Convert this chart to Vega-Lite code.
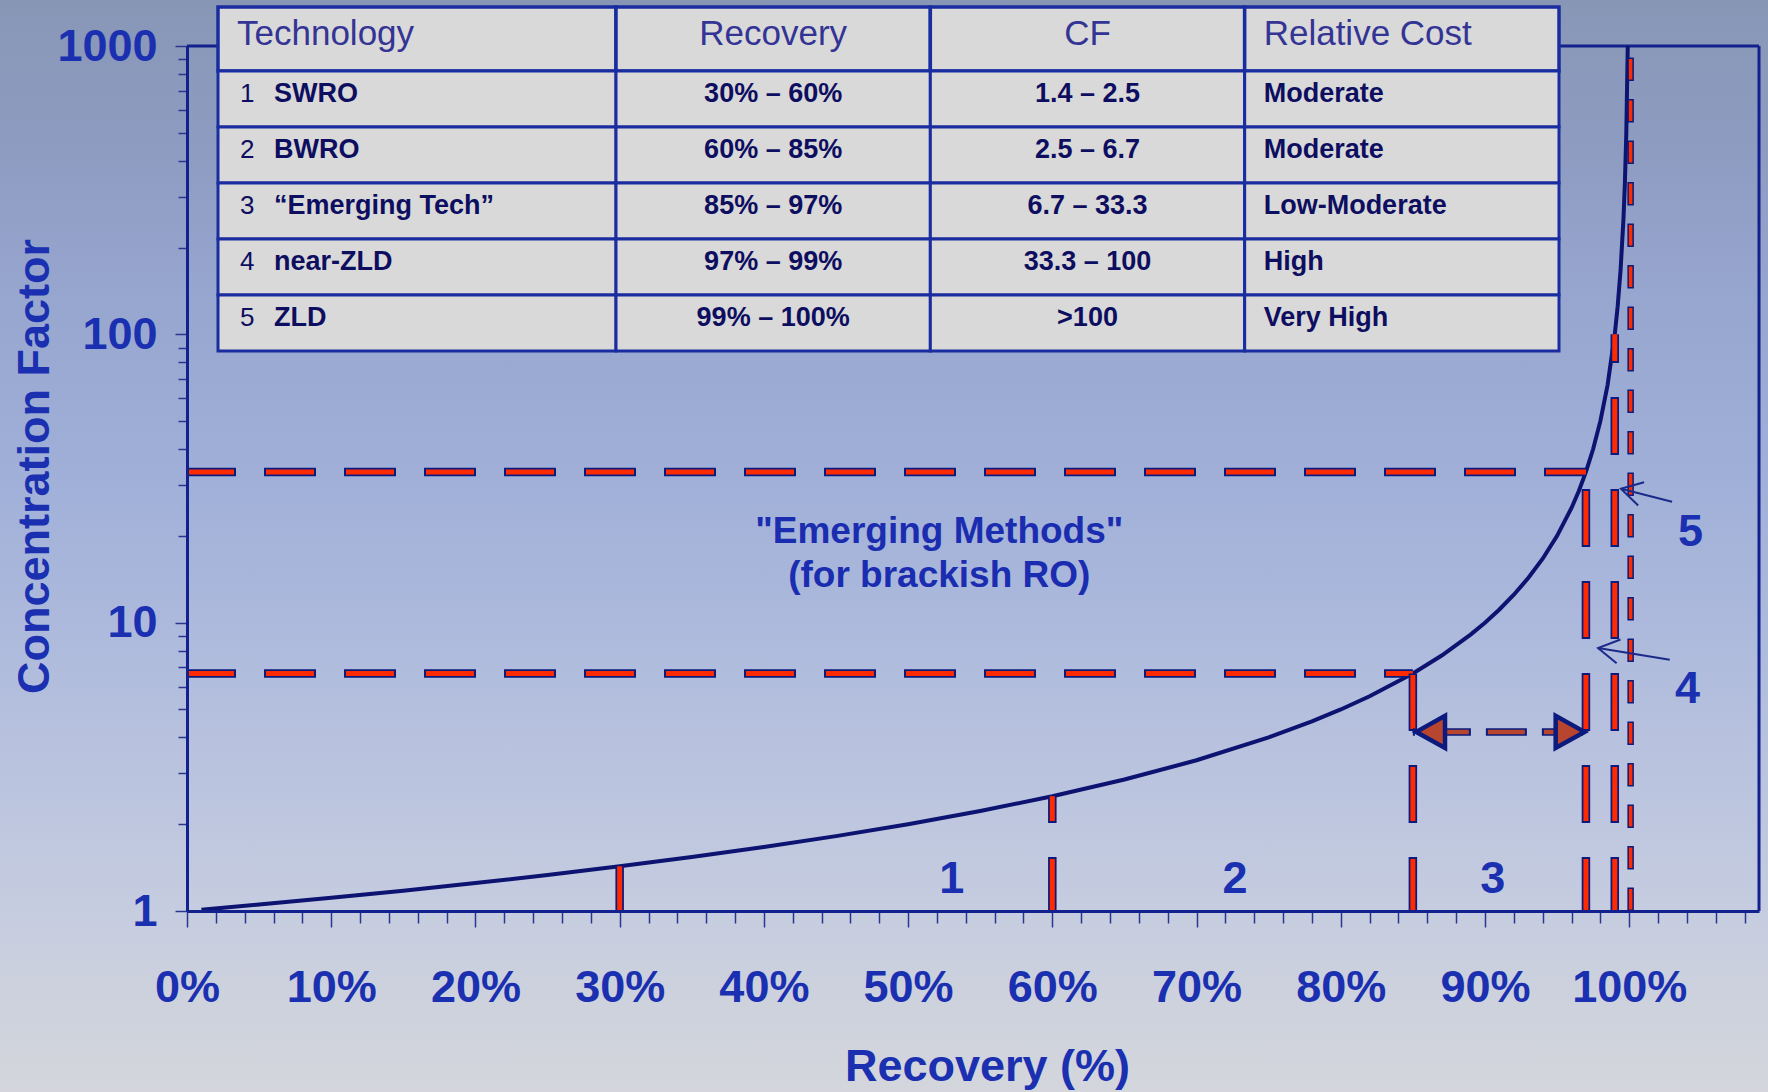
{
  "$schema": "https://vega.github.io/schema/vega-lite/v6.json",
  "width": 1572,
  "height": 865,
  "autosize": {"type": "none"},
  "padding": {"left": 187, "top": 46, "right": 9, "bottom": 181},
  "background": "#b3bdd9",
  "config": {"font": "Liberation Sans", "view": {"stroke": null}},
  "datasets": {
    "curve": [
      {"R": 0.01, "CF": 1.0101}, {"R": 0.05, "CF": 1.0526}, {"R": 0.1, "CF": 1.1111}, {"R": 0.15, "CF": 1.1765},
      {"R": 0.2, "CF": 1.25}, {"R": 0.25, "CF": 1.3333}, {"R": 0.3, "CF": 1.4286}, {"R": 0.35, "CF": 1.5385},
      {"R": 0.4, "CF": 1.6667}, {"R": 0.45, "CF": 1.8182}, {"R": 0.5, "CF": 2}, {"R": 0.55, "CF": 2.2222},
      {"R": 0.6, "CF": 2.5}, {"R": 0.65, "CF": 2.8571}, {"R": 0.7, "CF": 3.3333}, {"R": 0.75, "CF": 4},
      {"R": 0.78, "CF": 4.5455}, {"R": 0.8, "CF": 5}, {"R": 0.82, "CF": 5.5556}, {"R": 0.85, "CF": 6.6667},
      {"R": 0.87, "CF": 7.6923}, {"R": 0.89, "CF": 9.0909}, {"R": 0.9, "CF": 10}, {"R": 0.91, "CF": 11.111},
      {"R": 0.92, "CF": 12.5}, {"R": 0.93, "CF": 14.286}, {"R": 0.94, "CF": 16.667}, {"R": 0.95, "CF": 20},
      {"R": 0.96, "CF": 25}, {"R": 0.965, "CF": 28.571}, {"R": 0.97, "CF": 33.333}, {"R": 0.975, "CF": 40},
      {"R": 0.98, "CF": 50}, {"R": 0.985, "CF": 66.667}, {"R": 0.99, "CF": 100}, {"R": 0.992, "CF": 125},
      {"R": 0.994, "CF": 166.67}, {"R": 0.996, "CF": 250}, {"R": 0.997, "CF": 333.33}, {"R": 0.998, "CF": 500},
      {"R": 0.999, "CF": 1000}
    ],
    "hguides": [{"R0": 0, "R1": 0.85, "CF": 6.667}, {"R0": 0, "R1": 0.97, "CF": 33.33}],
    "vguides": [
      {"R": 0.3, "CFbase": 1, "CFtop": 1.4286}, {"R": 0.6, "CFbase": 1, "CFtop": 2.5}, {"R": 0.85, "CFbase": 1, "CFtop": 6.667},
      {"R": 0.97, "CFbase": 1, "CFtop": 33.33}, {"R": 0.99, "CFbase": 1, "CFtop": 100}
    ],
    "thin": [{"R": 1.001, "CF0": 1, "CF1": 1000}],
    "arrow": [{"R0": 0.85, "R1": 0.97, "CF": 4.18}],
    "heads": [{"R": 0.8623, "CF": 4.18, "dir": "left"}, {"R": 0.959, "CF": 4.18, "dir": "right"}],
    "pointers": [
      {"label": "5", "Rh": 0.9943, "CFh": 29.12, "Rt": 1.0297, "CFt": 26.25},
      {"label": "4", "Rh": 0.9784, "CFh": 8.17, "Rt": 1.0281, "CFt": 7.44}
    ],
    "regions": [
      {"t": "1", "R": 0.5303, "CF": 1.291}, {"t": "2", "R": 0.7266, "CF": 1.291}, {"t": "3", "R": 0.9054, "CF": 1.291},
      {"t": "4", "R": 1.0405, "CF": 5.89}, {"t": "5", "R": 1.0426, "CF": 20.57}
    ],
    "note": [{"R": 0.5216, "CF": 18.86, "t": ["\"Emerging Methods\"", "(for brackish RO)"]}],
    "head_tech": [{"row": "header", "col": "Technology"}],
    "head_other": [{"row": "header", "col": "Recovery"}, {"row": "header", "col": "CF"}, {"row": "header", "col": "Relative Cost"}],
    "body_tech": [
      {"row": "1", "col": "Technology", "num": "1", "name": "SWRO"},
      {"row": "2", "col": "Technology", "num": "2", "name": "BWRO"},
      {"row": "3", "col": "Technology", "num": "3", "name": "“Emerging Tech”"},
      {"row": "4", "col": "Technology", "num": "4", "name": "near-ZLD"},
      {"row": "5", "col": "Technology", "num": "5", "name": "ZLD"}
    ],
    "body_other": [
      {"row": "1", "col": "Recovery", "text": "30% – 60%"}, {"row": "1", "col": "CF", "text": "1.4 – 2.5"}, {"row": "1", "col": "Relative Cost", "text": "Moderate"},
      {"row": "2", "col": "Recovery", "text": "60% – 85%"}, {"row": "2", "col": "CF", "text": "2.5 – 6.7"}, {"row": "2", "col": "Relative Cost", "text": "Moderate"},
      {"row": "3", "col": "Recovery", "text": "85% – 97%"}, {"row": "3", "col": "CF", "text": "6.7 – 33.3"}, {"row": "3", "col": "Relative Cost", "text": "Low-Moderate"},
      {"row": "4", "col": "Recovery", "text": "97% – 99%"}, {"row": "4", "col": "CF", "text": "33.3 – 100"}, {"row": "4", "col": "Relative Cost", "text": "High"},
      {"row": "5", "col": "Recovery", "text": "99% – 100%"}, {"row": "5", "col": "CF", "text": ">100"}, {"row": "5", "col": "Relative Cost", "text": "Very High"}
    ]
  },
  "layer": [
    {
      "data": {"values": [{"a": 0}]},
      "mark": {"type": "rect", "fill": {"gradient": "linear", "x1": 0, "y1": 0, "x2": 0, "y2": 1, "stops": [
        {"offset": 0.07, "color": "#8896b6"},
        {"offset": 0.19, "color": "#8e9cc2"},
        {"offset": 0.30, "color": "#97a6cf"},
        {"offset": 0.42, "color": "#9eaed7"},
        {"offset": 0.54, "color": "#abb8dc"},
        {"offset": 0.65, "color": "#b8c2de"},
        {"offset": 0.77, "color": "#c5cce0"},
        {"offset": 0.85, "color": "#ced2dd"},
        {"offset": 0.92, "color": "#d4d6dc"}
      ]}},
      "encoding": {
        "x": {"datum": -0.2, "type": "quantitative", "scale": {"domain": [0, 1.09], "nice": false, "zero": false}, "axis": null},
        "x2": {"datum": 1.2},
        "y": {"datum": 3000, "type": "quantitative", "scale": {"type": "log", "domain": [1, 1000], "nice": false}, "axis": null},
        "y2": {"datum": 0.1}
      }
    },
    {
      "data": {"values": [{"a": 0}]},
      "mark": {"type": "rule", "stroke": "#13218e", "strokeWidth": 3},
      "encoding": {
        "x": {"datum": 0, "type": "quantitative", "scale": {"domain": [0, 1.09], "nice": false, "zero": false}, "axis": null},
        "x2": {"datum": 1.09},
        "y": {"datum": 1000, "type": "quantitative", "scale": {"type": "log", "domain": [1, 1000], "nice": false}, "axis": null}
      }
    },
    {
      "data": {"values": [{"a": 0}]},
      "mark": {"type": "rule", "stroke": "#13218e", "strokeWidth": 3},
      "encoding": {
        "x": {"datum": 1.09, "type": "quantitative", "scale": {"domain": [0, 1.09], "nice": false, "zero": false}, "axis": null},
        "y": {"datum": 1, "type": "quantitative", "scale": {"type": "log", "domain": [1, 1000], "nice": false}, "axis": null},
        "y2": {"datum": 1000}
      }
    },
    {
      "data": {"name": "curve"},
      "mark": {"type": "line", "stroke": "#0c1370", "strokeWidth": 4},
      "encoding": {
        "x": {
          "field": "R", "type": "quantitative",
          "scale": {"domain": [0, 1.09], "nice": false, "zero": false},
          "axis": {
            "values": [0,0.02,0.04,0.06,0.08,0.1,0.12,0.14,0.16,0.18,0.2,0.22,0.24,0.26,0.28,0.3,0.32,0.34,0.36,0.38,0.4,0.42,0.44,0.46,0.48,0.5,0.52,0.54,0.56,0.58,0.6,0.62,0.64,0.66,0.68,0.7,0.72,0.74,0.76,0.78,0.8,0.82,0.84,0.86,0.88,0.9,0.92,0.94,0.96,0.98,1,1.02,1.04,1.06,1.08],
            "labelExpr": "abs(datum.value*10 - round(datum.value*10)) < 0.001 && datum.value < 1.001 ? format(datum.value, '.0%') : ''",
            "labelFontSize": 45, "labelFontWeight": "bold", "labelColor": "#1a30b0",
            "labelBaseline": "alphabetic", "labelPadding": 74, "labelOverlap": false, "labelFlush": false,
            "tickSize": {"condition": {"test": "abs(datum.value*10 - round(datum.value*10)) < 0.001", "value": 16}, "value": 12},
            "tickColor": "#2a3590", "tickWidth": 1.5,
            "domainColor": "#13218e", "domainWidth": 3,
            "grid": false, "zindex": 1,
            "title": "Recovery (%)", "titleFontSize": 45, "titleFontWeight": "bold", "titleColor": "#1a30b0",
            "titleX": 800, "titleY": 169, "titleBaseline": "alphabetic", "titleAlign": "center"
          }
        },
        "y": {
          "field": "CF", "type": "quantitative",
          "scale": {"type": "log", "domain": [1, 1000], "nice": false},
          "axis": {
            "values": [1,2,3,4,5,6,7,8,9,10,20,30,40,50,60,70,80,90,100,200,300,400,500,600,700,800,900,1000],
            "labelExpr": "(datum.value==1||datum.value==10||datum.value==100||datum.value==1000) ? format(datum.value, 'd') : ''",
            "labelFontSize": 45, "labelFontWeight": "bold", "labelColor": "#1a30b0",
            "labelBaseline": "middle", "labelPadding": 18, "labelOverlap": false, "labelFlush": false,
            "tickSize": {"condition": {"test": "datum.value==1||datum.value==10||datum.value==100||datum.value==1000", "value": 12}, "value": 9},
            "tickColor": "#2a3590", "tickWidth": 1.5,
            "domainColor": "#13218e", "domainWidth": 3,
            "grid": false, "zindex": 1,
            "title": "Concentration Factor", "titleFontSize": 45, "titleFontWeight": "bold", "titleColor": "#1a30b0",
            "titleX": -153, "titleY": 420, "titleAngle": 270, "titleBaseline": "middle", "titleAlign": "center"
          }
        }
      }
    },
    {
      "data": {"name": "hguides"},
      "mark": {"type": "rule", "stroke": "#0b1a7c", "strokeWidth": 8.5, "strokeDash": [52, 28], "strokeDashOffset": 3},
      "encoding": {
        "x": {"field": "R0", "type": "quantitative", "scale": {"domain": [0, 1.09], "nice": false, "zero": false}, "axis": null},
        "x2": {"field": "R1"},
        "y": {"field": "CF", "type": "quantitative", "scale": {"type": "log", "domain": [1, 1000], "nice": false}, "axis": null}
      }
    },
    {
      "data": {"name": "hguides"},
      "mark": {"type": "rule", "stroke": "#ff2a00", "strokeWidth": 5, "strokeDash": [48, 32], "strokeDashOffset": 1},
      "encoding": {
        "x": {"field": "R0", "type": "quantitative", "scale": {"domain": [0, 1.09], "nice": false, "zero": false}, "axis": null},
        "x2": {"field": "R1"},
        "y": {"field": "CF", "type": "quantitative", "scale": {"type": "log", "domain": [1, 1000], "nice": false}, "axis": null}
      }
    },
    {
      "data": {"name": "vguides"},
      "mark": {"type": "rule", "stroke": "#0b1a7c", "strokeWidth": 8.5, "strokeDash": [58, 34], "strokeDashOffset": 4},
      "encoding": {
        "x": {"field": "R", "type": "quantitative", "scale": {"domain": [0, 1.09], "nice": false, "zero": false}, "axis": null},
        "y": {"field": "CFbase", "type": "quantitative", "scale": {"type": "log", "domain": [1, 1000], "nice": false}, "axis": null},
        "y2": {"field": "CFtop"}
      }
    },
    {
      "data": {"name": "vguides"},
      "mark": {"type": "rule", "stroke": "#ff2a00", "strokeWidth": 5, "strokeDash": [54, 38], "strokeDashOffset": 2},
      "encoding": {
        "x": {"field": "R", "type": "quantitative", "scale": {"domain": [0, 1.09], "nice": false, "zero": false}, "axis": null},
        "y": {"field": "CFbase", "type": "quantitative", "scale": {"type": "log", "domain": [1, 1000], "nice": false}, "axis": null},
        "y2": {"field": "CFtop"}
      }
    },
    {
      "data": {"name": "thin"},
      "mark": {"type": "rule", "stroke": "#0b1a7c", "strokeWidth": 6.5, "strokeDash": [23.5, 18], "strokeDashOffset": 0},
      "encoding": {
        "x": {"field": "R", "type": "quantitative", "scale": {"domain": [0, 1.09], "nice": false, "zero": false}, "axis": null},
        "y": {"field": "CF0", "type": "quantitative", "scale": {"type": "log", "domain": [1, 1000], "nice": false}, "axis": null},
        "y2": {"field": "CF1"}
      }
    },
    {
      "data": {"name": "thin"},
      "mark": {"type": "rule", "stroke": "#ff2a00", "strokeWidth": 3.5, "strokeDash": [20.5, 21], "strokeDashOffset": 40},
      "encoding": {
        "x": {"field": "R", "type": "quantitative", "scale": {"domain": [0, 1.09], "nice": false, "zero": false}, "axis": null},
        "y": {"field": "CF0", "type": "quantitative", "scale": {"type": "log", "domain": [1, 1000], "nice": false}, "axis": null},
        "y2": {"field": "CF1"}
      }
    },
    {
      "data": {"name": "arrow"},
      "mark": {"type": "rule", "stroke": "#0b1a7c", "strokeWidth": 7.5, "strokeDash": [41, 15], "strokeDashOffset": 39},
      "encoding": {
        "x": {"field": "R0", "type": "quantitative", "scale": {"domain": [0, 1.09], "nice": false, "zero": false}, "axis": null},
        "x2": {"field": "R1"},
        "y": {"field": "CF", "type": "quantitative", "scale": {"type": "log", "domain": [1, 1000], "nice": false}, "axis": null}
      }
    },
    {
      "data": {"name": "arrow"},
      "mark": {"type": "rule", "stroke": "#b8462e", "strokeWidth": 4.5, "strokeDash": [37, 19], "strokeDashOffset": 37},
      "encoding": {
        "x": {"field": "R0", "type": "quantitative", "scale": {"domain": [0, 1.09], "nice": false, "zero": false}, "axis": null},
        "x2": {"field": "R1"},
        "y": {"field": "CF", "type": "quantitative", "scale": {"type": "log", "domain": [1, 1000], "nice": false}, "axis": null}
      }
    },
    {
      "data": {"name": "heads"},
      "mark": {"type": "point", "filled": true, "fill": "#b8462e", "strokeWidth": 0, "size": 1024, "opacity": 1},
      "encoding": {
        "x": {"field": "R", "type": "quantitative", "scale": {"domain": [0, 1.09], "nice": false, "zero": false}, "axis": null},
        "y": {"field": "CF", "type": "quantitative", "scale": {"type": "log", "domain": [1, 1000], "nice": false}, "axis": null},
        "shape": {"field": "dir", "type": "nominal", "scale": {"domain": ["left", "right"], "range": ["M-0.9,0L0.9,-1L0.9,1Z", "M0.9,0L-0.9,-1L-0.9,1Z"]}, "legend": null}
      }
    },
    {
      "data": {"name": "heads"},
      "mark": {"type": "point", "filled": false, "stroke": "#0b1a7c", "strokeWidth": 4.5, "size": 1024, "opacity": 1},
      "encoding": {
        "x": {"field": "R", "type": "quantitative", "scale": {"domain": [0, 1.09], "nice": false, "zero": false}, "axis": null},
        "y": {"field": "CF", "type": "quantitative", "scale": {"type": "log", "domain": [1, 1000], "nice": false}, "axis": null},
        "shape": {"field": "dir", "type": "nominal", "scale": {"domain": ["left", "right"], "range": ["M0.9,-1L-0.9,0L0.9,1", "M-0.9,-1L0.9,0L-0.9,1"]}, "legend": null}
      }
    },
    {
      "data": {"name": "pointers"},
      "mark": {"type": "rule", "stroke": "#1a2a8a", "strokeWidth": 2},
      "encoding": {
        "x": {"field": "Rh", "type": "quantitative", "scale": {"domain": [0, 1.09], "nice": false, "zero": false}, "axis": null},
        "y": {"field": "CFh", "type": "quantitative", "scale": {"type": "log", "domain": [1, 1000], "nice": false}, "axis": null},
        "x2": {"field": "Rt"},
        "y2": {"field": "CFt"}
      }
    },
    {
      "data": {"name": "pointers"},
      "transform": [{"filter": "datum.label == '5'"}],
      "mark": {"type": "point", "shape": "M0.866,-0.5L0,0L0.866,0.5", "filled": false, "stroke": "#1a2a8a", "strokeWidth": 2, "size": 2304, "angle": 14.3, "opacity": 1},
      "encoding": {
        "x": {"field": "Rh", "type": "quantitative", "scale": {"domain": [0, 1.09], "nice": false, "zero": false}, "axis": null},
        "y": {"field": "CFh", "type": "quantitative", "scale": {"type": "log", "domain": [1, 1000], "nice": false}, "axis": null}
      }
    },
    {
      "data": {"name": "pointers"},
      "transform": [{"filter": "datum.label == '4'"}],
      "mark": {"type": "point", "shape": "M0.866,-0.5L0,0L0.866,0.5", "filled": false, "stroke": "#1a2a8a", "strokeWidth": 2, "size": 2304, "angle": 9.3, "opacity": 1},
      "encoding": {
        "x": {"field": "Rh", "type": "quantitative", "scale": {"domain": [0, 1.09], "nice": false, "zero": false}, "axis": null},
        "y": {"field": "CFh", "type": "quantitative", "scale": {"type": "log", "domain": [1, 1000], "nice": false}, "axis": null}
      }
    },
    {
      "data": {"name": "regions"},
      "mark": {"type": "text", "fontSize": 45, "fontWeight": "bold", "color": "#1a30b0", "align": "center", "baseline": "middle"},
      "encoding": {
        "x": {"field": "R", "type": "quantitative", "scale": {"domain": [0, 1.09], "nice": false, "zero": false}, "axis": null},
        "y": {"field": "CF", "type": "quantitative", "scale": {"type": "log", "domain": [1, 1000], "nice": false}, "axis": null},
        "text": {"field": "t"}
      }
    },
    {
      "data": {"name": "note"},
      "mark": {"type": "text", "fontSize": 37, "fontWeight": "bold", "color": "#1a2db0", "align": "center", "baseline": "alphabetic", "lineHeight": 44},
      "encoding": {
        "x": {"field": "R", "type": "quantitative", "scale": {"domain": [0, 1.09], "nice": false, "zero": false}, "axis": null},
        "y": {"field": "CF", "type": "quantitative", "scale": {"type": "log", "domain": [1, 1000], "nice": false}, "axis": null},
        "text": {"field": "t"}
      }
    },
    {
      "data": {"name": "head_tech"},
      "mark": {"type": "rect", "fill": "#d9d9d9", "stroke": "#1a2da0", "strokeWidth": 3.5},
      "encoding": {
        "x": {"field": "col", "type": "nominal", "scale": {"type": "band", "domain": ["Technology"], "range": [31, 429], "paddingInner": 0, "paddingOuter": 0}, "axis": null},
        "y": {"field": "row", "type": "nominal", "scale": {"type": "band", "domain": ["header"], "range": [-39, 25], "paddingInner": 0, "paddingOuter": 0}, "axis": null}
      }
    },
    {
      "data": {"name": "head_tech"},
      "mark": {"type": "text", "align": "left", "baseline": "alphabetic", "dx": 19, "dy": 6, "fontSize": 35, "color": "#343495"},
      "encoding": {
        "x": {"field": "col", "type": "nominal", "bandPosition": 0, "scale": {"type": "band", "domain": ["Technology"], "range": [31, 429], "paddingInner": 0, "paddingOuter": 0}, "axis": null},
        "y": {"field": "row", "type": "nominal", "scale": {"type": "band", "domain": ["header"], "range": [-39, 25], "paddingInner": 0, "paddingOuter": 0}, "axis": null},
        "text": {"field": "col"}
      }
    },
    {
      "data": {"name": "head_other"},
      "mark": {"type": "rect", "fill": "#d9d9d9", "stroke": "#1a2da0", "strokeWidth": 3.5},
      "encoding": {
        "x": {"field": "col", "type": "nominal", "scale": {"type": "band", "domain": ["Recovery", "CF", "Relative Cost"], "range": [429, 1372], "paddingInner": 0, "paddingOuter": 0}, "axis": null},
        "y": {"field": "row", "type": "nominal", "scale": {"type": "band", "domain": ["header"], "range": [-39, 25], "paddingInner": 0, "paddingOuter": 0}, "axis": null}
      }
    },
    {
      "data": {"name": "head_other"},
      "transform": [{"filter": "datum.col != 'Relative Cost'"}],
      "mark": {"type": "text", "align": "center", "baseline": "alphabetic", "dy": 6, "fontSize": 35, "color": "#343495"},
      "encoding": {
        "x": {"field": "col", "type": "nominal", "scale": {"type": "band", "domain": ["Recovery", "CF", "Relative Cost"], "range": [429, 1372], "paddingInner": 0, "paddingOuter": 0}, "axis": null},
        "y": {"field": "row", "type": "nominal", "scale": {"type": "band", "domain": ["header"], "range": [-39, 25], "paddingInner": 0, "paddingOuter": 0}, "axis": null},
        "text": {"field": "col"}
      }
    },
    {
      "data": {"name": "head_other"},
      "transform": [{"filter": "datum.col == 'Relative Cost'"}],
      "mark": {"type": "text", "align": "left", "baseline": "alphabetic", "dx": 19, "dy": 6, "fontSize": 35, "color": "#343495"},
      "encoding": {
        "x": {"field": "col", "type": "nominal", "bandPosition": 0, "scale": {"type": "band", "domain": ["Recovery", "CF", "Relative Cost"], "range": [429, 1372], "paddingInner": 0, "paddingOuter": 0}, "axis": null},
        "y": {"field": "row", "type": "nominal", "scale": {"type": "band", "domain": ["header"], "range": [-39, 25], "paddingInner": 0, "paddingOuter": 0}, "axis": null},
        "text": {"field": "col"}
      }
    },
    {
      "data": {"name": "body_tech"},
      "mark": {"type": "rect", "fill": "#d9d9d9", "stroke": "#1a2da0", "strokeWidth": 3},
      "encoding": {
        "x": {"field": "col", "type": "nominal", "scale": {"type": "band", "domain": ["Technology"], "range": [31, 429], "paddingInner": 0, "paddingOuter": 0}, "axis": null},
        "y": {"field": "row", "type": "nominal", "scale": {"type": "band", "domain": ["1", "2", "3", "4", "5"], "range": [25, 305], "paddingInner": 0, "paddingOuter": 0}, "axis": null}
      }
    },
    {
      "data": {"name": "body_tech"},
      "mark": {"type": "text", "align": "left", "baseline": "alphabetic", "dx": 22, "dy": 3, "fontSize": 26, "color": "#0e0e60"},
      "encoding": {
        "x": {"field": "col", "type": "nominal", "bandPosition": 0, "scale": {"type": "band", "domain": ["Technology"], "range": [31, 429], "paddingInner": 0, "paddingOuter": 0}, "axis": null},
        "y": {"field": "row", "type": "nominal", "scale": {"type": "band", "domain": ["1", "2", "3", "4", "5"], "range": [25, 305], "paddingInner": 0, "paddingOuter": 0}, "axis": null},
        "text": {"field": "num"}
      }
    },
    {
      "data": {"name": "body_tech"},
      "mark": {"type": "text", "align": "left", "baseline": "alphabetic", "dx": 56, "dy": 3, "fontSize": 27, "fontWeight": "bold", "color": "#0e0e60"},
      "encoding": {
        "x": {"field": "col", "type": "nominal", "bandPosition": 0, "scale": {"type": "band", "domain": ["Technology"], "range": [31, 429], "paddingInner": 0, "paddingOuter": 0}, "axis": null},
        "y": {"field": "row", "type": "nominal", "scale": {"type": "band", "domain": ["1", "2", "3", "4", "5"], "range": [25, 305], "paddingInner": 0, "paddingOuter": 0}, "axis": null},
        "text": {"field": "name"}
      }
    },
    {
      "data": {"name": "body_other"},
      "mark": {"type": "rect", "fill": "#d9d9d9", "stroke": "#1a2da0", "strokeWidth": 3},
      "encoding": {
        "x": {"field": "col", "type": "nominal", "scale": {"type": "band", "domain": ["Recovery", "CF", "Relative Cost"], "range": [429, 1372], "paddingInner": 0, "paddingOuter": 0}, "axis": null},
        "y": {"field": "row", "type": "nominal", "scale": {"type": "band", "domain": ["1", "2", "3", "4", "5"], "range": [25, 305], "paddingInner": 0, "paddingOuter": 0}, "axis": null}
      }
    },
    {
      "data": {"name": "body_other"},
      "transform": [{"filter": "datum.col != 'Relative Cost'"}],
      "mark": {"type": "text", "align": "center", "baseline": "alphabetic", "dy": 3, "fontSize": 27, "fontWeight": "bold", "color": "#0e0e60"},
      "encoding": {
        "x": {"field": "col", "type": "nominal", "scale": {"type": "band", "domain": ["Recovery", "CF", "Relative Cost"], "range": [429, 1372], "paddingInner": 0, "paddingOuter": 0}, "axis": null},
        "y": {"field": "row", "type": "nominal", "scale": {"type": "band", "domain": ["1", "2", "3", "4", "5"], "range": [25, 305], "paddingInner": 0, "paddingOuter": 0}, "axis": null},
        "text": {"field": "text"}
      }
    },
    {
      "data": {"name": "body_other"},
      "transform": [{"filter": "datum.col == 'Relative Cost'"}],
      "mark": {"type": "text", "align": "left", "baseline": "alphabetic", "dx": 19, "dy": 3, "fontSize": 27, "fontWeight": "bold", "color": "#0e0e60"},
      "encoding": {
        "x": {"field": "col", "type": "nominal", "bandPosition": 0, "scale": {"type": "band", "domain": ["Recovery", "CF", "Relative Cost"], "range": [429, 1372], "paddingInner": 0, "paddingOuter": 0}, "axis": null},
        "y": {"field": "row", "type": "nominal", "scale": {"type": "band", "domain": ["1", "2", "3", "4", "5"], "range": [25, 305], "paddingInner": 0, "paddingOuter": 0}, "axis": null},
        "text": {"field": "text"}
      }
    }
  ],
  "resolve": {"scale": {"x": "independent", "y": "independent"}}
}
